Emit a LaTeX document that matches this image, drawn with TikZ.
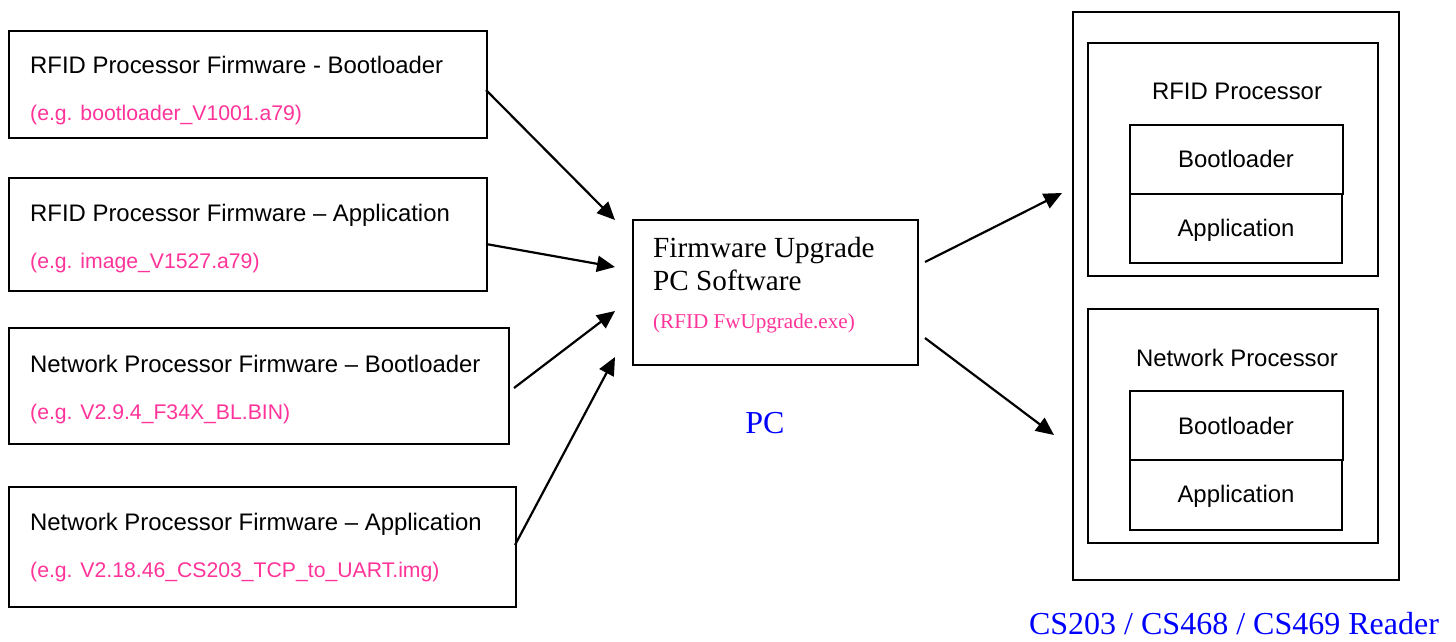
\documentclass[tikz,border=0pt]{standalone}
\usepackage{fontspec}
\setmainfont{Liberation Serif}
\newfontfamily\arialf{Liberation Sans}
\usetikzlibrary{arrows.meta}
\definecolor{pinkt}{RGB}{255,51,153}
\definecolor{bluet}{RGB}{0,0,255}
\tikzset{
  box/.style={draw=black, line width=1.8pt, inner sep=0pt, anchor=north west},
  sans/.style={font=\arialf\fontsize{23.9}{26}\selectfont, inner sep=0pt},
  lefttxt/.style={sans, anchor=base west},
  ctrtxt/.style={sans, anchor=base},
  pinksans/.style={font=\arialf\fontsize{21.2}{24}\selectfont, text=pinkt, inner sep=0pt, anchor=base west},
  serif/.style={font=\fontsize{29.2}{32}\selectfont, inner sep=0pt, anchor=base west},
  pinkserif/.style={font=\fontsize{21.1}{24}\selectfont, text=pinkt, inner sep=0pt, anchor=base west},
  bluetxt/.style={font=\fontsize{32}{36}\selectfont, text=bluet, inner sep=0pt, anchor=base},
  arr/.style={line width=2.2pt, -{Triangle[length=18pt,width=16pt]}},
}
\begin{document}
\begin{tikzpicture}[x=1pt,y=-1pt]
\useasboundingbox (0,0) rectangle (1456,641);
% left boxes
\node[box, minimum width=478pt, minimum height=107pt] (b1) at (8,30) {};
\node[lefttxt] (t1) at (30,73) {RFID Processor Firmware - Bootloader};
\node[pinksans] (p1) at (30,120) {(e.g. bootloader\_V1001.a79)};
\node[box, minimum width=478pt, minimum height=113pt] (b2) at (8,177) {};
\node[lefttxt] (t2) at (30,221) {RFID Processor Firmware – Application};
\node[pinksans] (p2) at (30,268) {(e.g. image\_V1527.a79)};
\node[box, minimum width=500pt, minimum height=116pt] (b3) at (8,327) {};
\node[lefttxt] (t3) at (30,372) {Network Processor Firmware – Bootloader};
\node[pinksans] (p3) at (30,419) {(e.g. V2.9.4\_F34X\_BL.BIN)};
\node[box, minimum width=507pt, minimum height=120pt] (b4) at (8,486) {};
\node[lefttxt] (t4) at (30,530) {Network Processor Firmware – Application};
\node[pinksans] (p4) at (30,577) {(e.g. V2.18.46\_CS203\_TCP\_to\_UART.img)};
% middle box
\node[box, minimum width=285pt, minimum height=145pt] (pc) at (632,219) {};
\node[serif] (m1) at (653,257) {Firmware Upgrade};
\node[serif] (m2) at (653,290) {PC Software};
\node[pinkserif] (m3) at (653,328) {(RFID FwUpgrade.exe)};
\node[bluetxt] (pcl) at (765,433) {PC};
% right side
\node[box, minimum width=326pt, minimum height=568pt] (rd) at (1072,11) {};
\node[box, minimum width=290pt, minimum height=233pt] (rp) at (1087,42) {};
\node[ctrtxt] (rpt) at (1237,99) {RFID Processor};
\node[box, minimum width=213pt, minimum height=69pt] (rb) at (1129,124) {};
\node[ctrtxt] (rbt) at (1236,167) {Bootloader};
\node[box, minimum width=212pt, minimum height=69pt] (ra) at (1129,193) {};
\node[ctrtxt] (rat) at (1236,236) {Application};
\node[box, minimum width=290pt, minimum height=234pt] (np) at (1087,308) {};
\node[ctrtxt] (npt) at (1237,366) {Network Processor};
\node[box, minimum width=213pt, minimum height=69pt] (nb) at (1129,390) {};
\node[ctrtxt] (nbt) at (1236,434) {Bootloader};
\node[box, minimum width=212pt, minimum height=70pt] (na) at (1129,459) {};
\node[ctrtxt] (nat) at (1236,502) {Application};
\node[bluetxt] (rdl) at (1234,634) {CS203 / CS468 / CS469 Reader};
% arrow ends
\coordinate (s1) at (486,90);   \coordinate (e1) at (615,220);
\coordinate (s2) at (486,244);  \coordinate (e2) at (615,267);
\coordinate (s3) at (514,388);  \coordinate (e3) at (615,311);
\coordinate (s4) at (515,545);  \coordinate (e4) at (615,357);
\coordinate (s5) at (925,262);  \coordinate (e5) at (1062,193);
\coordinate (s6) at (925,338);  \coordinate (e6) at (1054,435);
\draw[arr] (s1) -- (e1);
\draw[arr] (s2) -- (e2);
\draw[arr] (s3) -- (e3);
\draw[arr] (s4) -- (e4);
\draw[arr] (s5) -- (e5);
\draw[arr] (s6) -- (e6);
\end{tikzpicture}
\end{document}
